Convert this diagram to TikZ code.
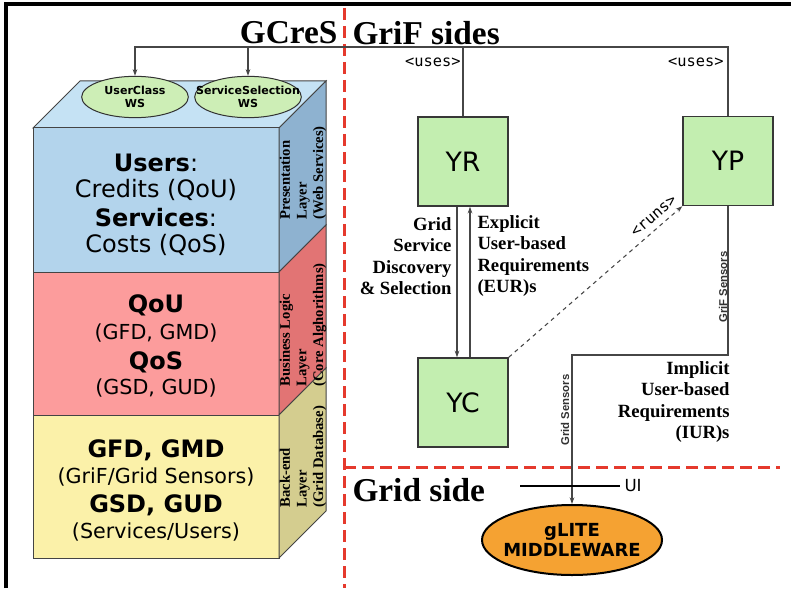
\documentclass[tikz,border=0pt]{standalone}
\usepackage{fontspec}
\setmainfont{Liberation Serif}
\newfontfamily\vsans{DejaVu Sans}
\newfontfamily\asans{Liberation Sans}
\newfontfamily\tmono{DejaVu Sans Mono}
\usetikzlibrary{arrows.meta,shapes.geometric,calc}

\tikzset{every picture/.style={line width=0.75pt}}

\begin{document}
\begin{tikzpicture}[x=0.75pt,y=0.75pt,yscale=-1,xscale=1,
  ybox/.style={draw={rgb, 255:red, 55; green, 55; blue, 55 },fill={rgb, 255:red, 195; green, 238; blue, 176 },line width=1.1pt,minimum width=67.5pt,minimum height=66.75pt,inner sep=0pt,font=\vsans\fontsize{20}{24}\selectfont},
  wsell/.style={ellipse,draw={rgb, 255:red, 50; green, 50; blue, 50 },fill={rgb, 255:red, 205; green, 238; blue, 182 },minimum width=80pt,minimum height=31pt,inner sep=0pt},
  conn/.style={draw={rgb, 255:red, 70; green, 70; blue, 70 },line width=0.8pt},
  tip/.style={-{Stealth[length=5pt,width=3.5pt]}},
  reddash/.style={draw={rgb, 255:red, 229; green, 57; blue, 45 },line width=2.25pt,dash pattern=on 9pt off 4.5pt},
  big/.style={font=\vsans\fontsize{18}{21}\selectfont},
  small/.style={font=\vsans\fontsize{15.5}{18}\selectfont},
  layer/.style={font=\bfseries\fontsize{11}{12.5}\selectfont,align=left,inner sep=0pt},
  req/.style={font=\bfseries\fontsize{14}{16}\selectfont,inner sep=0pt},
  title/.style={font=\bfseries\fontsize{25}{30}\selectfont,inner sep=0pt},
  uses/.style={font=\tmono\fontsize{11.5}{13}\selectfont,inner sep=0pt},
  sens/.style={font=\asans\bfseries\fontsize{8.5}{10}\selectfont,text={rgb, 255:red, 50; green, 50; blue, 50 },inner sep=0pt}]
\useasboundingbox (0,0) rectangle (791,588);

%Frame
\draw [line width=3pt] (6,588) -- (6,4) -- (791,4) ;

%Shape: Cube top
\draw [draw={rgb, 255:red, 68; green, 68; blue, 68 },fill={rgb, 255:red, 197; green, 226; blue, 244 }] (33,128) -- (80,81) -- (326,81) -- (279,128) -- cycle ;
%Shape: Cube front (blue)
\draw [draw={rgb, 255:red, 68; green, 68; blue, 68 },fill={rgb, 255:red, 179; green, 212; blue, 236 }] (33,128) -- (279,128) -- (279,272) -- (33,272) -- cycle ;
%Shape: Cube side (blue)
\draw [draw={rgb, 255:red, 68; green, 68; blue, 68 },fill={rgb, 255:red, 142; green, 178; blue, 208 }] (279,128) -- (326,81) -- (326,225) -- (279,272) -- cycle ;
%Shape: Cube front (red)
\draw [draw={rgb, 255:red, 68; green, 68; blue, 68 },fill={rgb, 255:red, 252; green, 156; blue, 156 }] (33,272) -- (279,272) -- (279,415) -- (33,415) -- cycle ;
%Shape: Cube side (red)
\draw [draw={rgb, 255:red, 68; green, 68; blue, 68 },fill={rgb, 255:red, 226; green, 116; blue, 116 }] (279,272) -- (326,225) -- (326,368) -- (279,415) -- cycle ;
%Shape: Cube front (yellow)
\draw [draw={rgb, 255:red, 68; green, 68; blue, 68 },fill={rgb, 255:red, 251; green, 241; blue, 169 }] (33,415) -- (279,415) -- (279,558) -- (33,558) -- cycle ;
%Shape: Cube side (yellow)
\draw [draw={rgb, 255:red, 68; green, 68; blue, 68 },fill={rgb, 255:red, 212; green, 205; blue, 143 }] (279,415) -- (326,368) -- (326,511) -- (279,558) -- cycle ;

%Shape: Ellipses
\draw (135,97) node [wsell,label={[font=\vsans\bfseries\fontsize{8.3}{10}\selectfont,align=center]center:UserClass\\WS}] (uc) {};
\draw (248,97) node [wsell,label={[font=\vsans\bfseries\fontsize{8.3}{10}\selectfont,align=center]center:ServiceSelection\\WS}] (ss) {};

%Red dividers
\draw [reddash] (344,8) -- (344,588) ;
\draw [reddash] (344,467) -- (780,467) ;

%Shape: Boxes
\draw (463,161.5) node [ybox] (yr) {YR};
\draw (728,161) node [ybox] (yp) {YP};
\draw (463,402.5) node [ybox] (yc) {YC};

%Shape: Middleware
\draw (572,540) node [ellipse,draw,line width=1.5pt,fill={rgb, 255:red, 245; green, 162; blue, 50 },minimum width=135pt,minimum height=52.5pt,inner sep=0pt,label={[font=\vsans\bfseries\fontsize{13.5}{15.5}\selectfont,align=center]center:gLITE\\MIDDLEWARE}] (mw) {};

%Connectors
\coordinate (bus) at (135,47);
\coordinate (sbend) at (572,355);
\draw [conn,tip] (yp.north) |- (bus) -- (uc.north) ;
\draw [conn] (yr.north) -- (yr.north |- bus) ;
\draw [conn,tip] (ss.north |- bus) -- (ss.north) ;
\draw [conn,tip] ($(yr.south)+(-6,0)$) -- ($(yc.north)+(-6,0)$) ;
\draw [conn,tip] ($(yc.north)+(7,0)$) -- ($(yr.south)+(7,0)$) ;
\draw [conn,tip,dashed] (yc.north east) -- (yp.south west) ;
\draw [conn,tip] (yp.south) |- (sbend) -- (mw.north) ;
%UI bar
\coordinate (uibar) at (520,486);
\draw (620,486) node [anchor=west,font=\vsans\fontsize{12.5}{14}\selectfont,inner sep=3pt] (ui) {UI};
\draw [line width=1.8pt] (uibar) -- (ui.west) ;

% Text Node
\draw (338,33) node [title,anchor=east] (gcres) {GCreS};
% Text Node
\draw (352,33) node [title,anchor=west] (grif) {GriF sides};
% Text Node
\draw (352,490) node [title,anchor=west] (gside) {Grid side};
% Text Node
\draw (461,62) node [uses,anchor=east] (usesr) {<uses>};
% Text Node
\draw (724,62) node [uses,anchor=east] (usesp) {<uses>};
% Text Node
\draw (654,216) node [uses,rotate=41] (runs) {<runs>};
% Text Node
\draw (452,256) node [req,anchor=east,align=right] (gsds) {Grid\\Service\\Discovery\\\& Selection};
% Text Node
\draw (477,256) node [req,anchor=west,align=left] (eur) {Explicit\\User-based\\Requirements\\(EUR)s};
% Text Node
\draw (730,402) node [req,anchor=east,align=right] (iur) {Implicit\\User-based\\Requirements\\(IUR)s};
% Text Node
\draw (723,287) node [sens,rotate=90] (grifs) {GriF Sensors};
% Text Node
\draw (565,410) node [sens,rotate=90] (grids) {Grid Sensors};

% Text Node
\draw (156,163) node [big] (t1) {\textbf{Users}:};
\draw (156,190) node [big] (t2) {Credits (QoU)};
\draw (156,218) node [big] (t3) {\textbf{Services}:};
\draw (156,245) node [big] (t4) {Costs (QoS)};
% Text Node
\draw (156,305) node [big] (t5) {\textbf{QoU}};
\draw (156,333) node [small] (t6) {(GFD, GMD)};
\draw (156,362) node [big] (t7) {\textbf{QoS}};
\draw (156,388) node [small] (t8) {(GSD, GUD)};
% Text Node
\draw (156,450) node [big] (t9) {\textbf{GFD, GMD}};
\draw (156,477) node [small] (t10) {(GriF/Grid Sensors)};
\draw (156,505) node [big] (t11) {\textbf{GSD, GUD}};
\draw (156,532) node [small] (t12) {(Services/Users)};

% Text Node
\draw (303,220) node [layer,rotate=90,anchor=west] (pl) {Presentation\\Layer\\(Web Services)};
\draw (303,387) node [layer,rotate=90,anchor=west] (bl) {Business Logic\\Layer\\(Core Alghorithms)};
\draw (303,508) node [layer,rotate=90,anchor=west] (be) {Back-end\\Layer\\(Grid Database)};

\end{tikzpicture}
\end{document}
